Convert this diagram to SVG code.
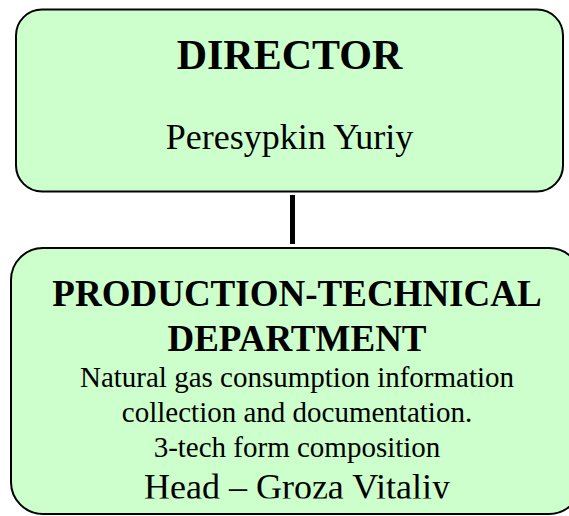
<svg xmlns="http://www.w3.org/2000/svg" width="569" height="516" viewBox="0 0 569 516">
<style>
.box{fill:#CCFFCC;stroke:#000;stroke-width:2}
text{font-family:"Liberation Serif","Times New Roman",serif;fill:#000;text-anchor:middle}
.b{font-weight:bold}
</style>
<defs>
<clipPath id="clipHead"><rect x="0" y="0" width="569" height="498.5"/></clipPath>
</defs>
<rect x="0" y="0" width="569" height="516" fill="#fff"/>
<g id="connectors">
<line x1="292.5" y1="195" x2="292.5" y2="244" stroke="#000" stroke-width="5"/>
</g>
<g id="director">
<rect class="box" x="16" y="9.5" width="547" height="182" rx="26" ry="26"/>
<text class="b" x="289.5" y="69" font-size="42">DIRECTOR</text>
<text x="289.5" y="149" font-size="36">Peresypkin Yuriy</text>
</g>
<g id="ptd">
<rect class="box" x="11" y="248" width="570" height="266" rx="32" ry="32"/>
<text class="b" x="297" y="306" font-size="37">PRODUCTION-TECHNICAL</text>
<text class="b" x="297" y="350.5" font-size="37">DEPARTMENT</text>
<text x="297" y="386.5" font-size="29">Natural gas consumption information</text>
<text x="297" y="421.5" font-size="29">collection and documentation.</text>
<text x="297" y="457" font-size="29">3-tech form composition</text>
<text x="297" y="499" font-size="36" clip-path="url(#clipHead)">Head – Groza Vitaliy</text>
</g>
</svg>
